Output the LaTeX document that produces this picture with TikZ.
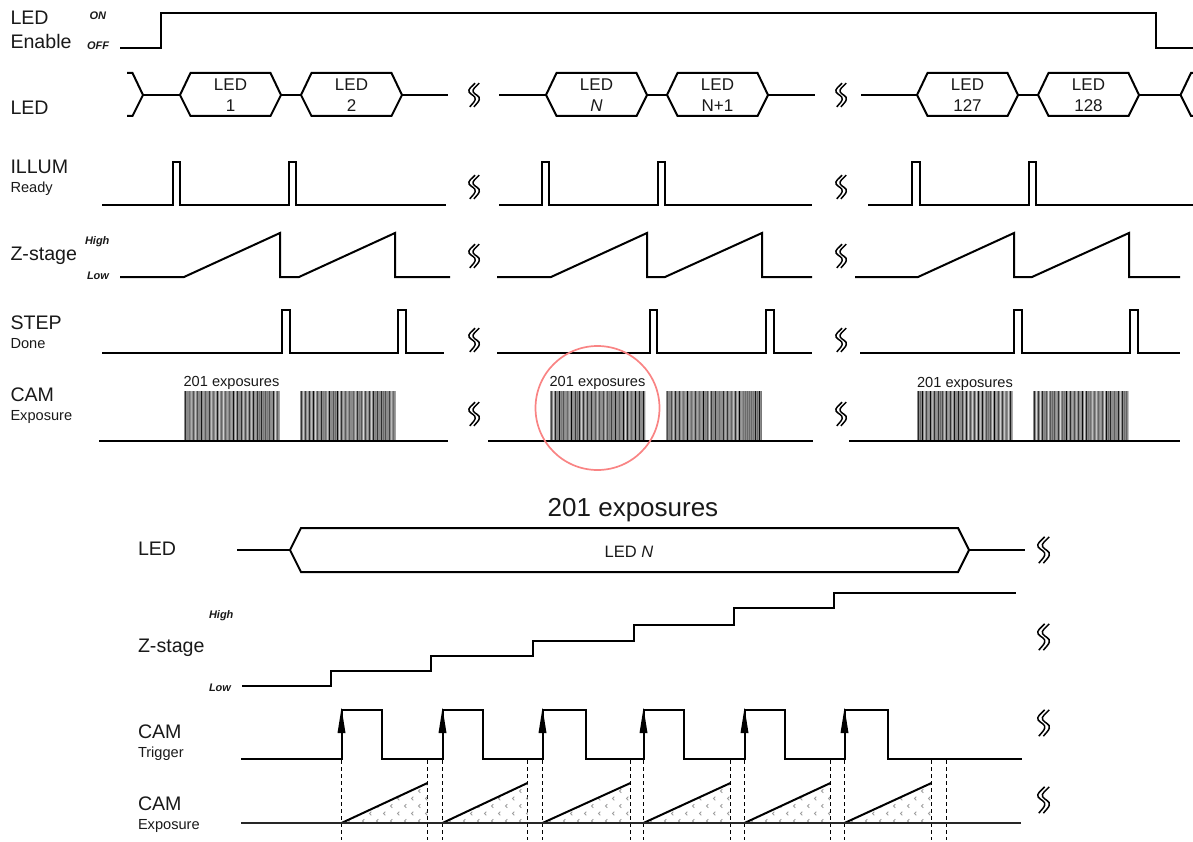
\documentclass[tikz,border=0pt]{standalone}
\usepackage{fontspec}
\setmainfont{Liberation Sans}
\newcommand{\fsz}[1]{\fontsize{#1}{#1}\selectfont}
\definecolor{ringc}{HTML}{F98484}
\tikzset{
  wave/.style={line width=2pt,line join=miter,black},
  thin wave/.style={line width=1.6pt,black!85},
  squig/.style={line width=1.5pt,black},
  guide/.style={line width=0.9pt,dash pattern=on 4pt off 3pt,black},
  lab/.style={anchor=base west,inner sep=0pt,outer sep=0pt,text=black!90},
  biglab/.style={lab,font=\fsz{19.6}},
  smalllab/.style={lab,font=\fsz{14.6}},
  lvl/.style={lab,font=\fsz{11}\bfseries\itshape},
  hextext/.style={anchor=base,inner sep=0pt,outer sep=0pt,font=\fsz{17},text=black!90},
  counttext/.style={anchor=base,inner sep=0pt,outer sep=0pt,font=\fsz{14.6},text=black!90}
}
% squiggle at x,y with scale
\newcommand{\sqg}[3]{%
  \begin{scope}[shift={(#1,#2)},xscale=#3*1.25,yscale=#3]
   \draw[squig] (0.5,-12.5) .. controls (-2,-9) and (-6,-6) .. (-4.5,-3) .. controls (-3,0) and (1.5,1) .. (0.5,5) .. controls (0,7.5) and (-2.5,10) .. (-4,12.5);
   \draw[squig] (4,-12.5) .. controls (1.5,-9) and (-2.5,-6) .. (-1,-3) .. controls (0.5,0) and (5,1) .. (4,5) .. controls (3.5,7.5) and (1,10) .. (-0.5,12.5);
  \end{scope}}
% hexagon bus cell: left tip, right tip
\newcommand{\hexcell}[5]{% xleft xright ytop ymid ybot
  \draw[wave] (#1,#4) -- ({#1+10.5},#3) -- ({#2-10.5},#3) -- (#2,#4) -- ({#2-10.5},#5) -- ({#1+10.5},#5) -- cycle;}
% two-line LED cell
\newcommand{\ledcell}[4]{% xleft xright line2 name
  \hexcell{#1}{#2}{73}{95}{116}
  \node[hextext] (#4a) at ({(#1+#2)/2},91) {LED};
  \node[hextext] (#4b) at ({(#1+#2)/2},112) {#3};}
\newcommand{\bars}[1]{%
  \fill[black!45] (#1,391) rectangle ({#1+96},441);
  \foreach \k in {0,...,47}{%
    \pgfmathsetmacro{\shade}{int(ifthenelse(mod(\k,2)==0,55+45*rnd,15+45*rnd))}%
    \pgfmathsetmacro{\lx}{#1+1+\k*2}%
    \draw[black!\shade!white,line width=1pt] (\lx,391) -- (\lx,441);
  }}
\newcommand{\expo}[2]{% start end
  \begin{scope}
    \clip (#1,823) -- (#2,783) -- (#2,823) -- cycle;
    \foreach \c in {0,...,7}{\foreach \r in {0,...,5}{%
      \pgfmathsetmacro{\mx}{#1+\c*14+mod(\r,2)*7+7}%
      \pgfmathsetmacro{\my}{821-\r*7.5}%
      \draw[black!38,line width=0.8pt] (\mx+1.8,\my-1.8) -- (\mx,\my) -- (\mx+1.8,\my+1.8);
    }}
  \end{scope}
  \draw[wave] (#1,823) -- (#2,783);}
\begin{document}
\begin{tikzpicture}[x=1pt,y=-1pt]
\useasboundingbox (0,0) rectangle (1193,842);
\pgfmathsetseed{11}
% labels
\node[biglab] (tLed) at (10.5,25) {LED};
\node[biglab] (tEn) at (10.5,49) {Enable};
\node[lvl] (tOn) at (89.5,20) {ON};
\node[lvl] (tOff) at (87,50) {OFF};
\node[biglab] (tLed2) at (10.5,115) {LED};
\node[biglab] (tIll) at (10.5,174) {ILLUM};
\node[smalllab] (tRdy) at (10.5,193) {Ready};
\node[biglab] (tZ) at (10.5,260) {Z-stage};
\node[lvl] (tHi) at (85,245) {High};
\node[lvl] (tLo) at (87,279) {Low};
\node[biglab] (tStep) at (10.5,329) {STEP};
\node[smalllab] (tDone) at (10.5,348) {Done};
\node[biglab] (tCam) at (10.5,401) {CAM};
\node[smalllab] (tExp) at (10.5,420) {Exposure};
% enable
\draw[wave] (120,48) -- (160.5,48) -- (160.5,13) -- (1155.5,13) -- (1155.5,48) -- (1193,48);
% LED row
\draw[wave] (127,73) -- (132.5,73) -- (143,95) -- (132.5,116) -- (127,116);
\draw[wave] (143,95) -- (180,95);
\ledcell{180}{281}{1}{c1}
\draw[wave] (281,95) -- (301,95);
\ledcell{301}{402}{2}{c2}
\draw[wave] (402,95) -- (448,95);
\draw[wave] (499,95) -- (546,95);
\ledcell{546}{647}{\itshape N}{c3}
\draw[wave] (647,95) -- (667,95);
\ledcell{667}{768}{N+1}{c4}
\draw[wave] (768,95) -- (815,95);
\draw[wave] (861,95) -- (917,95);
\ledcell{917}{1018}{127}{c5}
\draw[wave] (1018,95) -- (1038,95);
\ledcell{1038}{1139}{128}{c6}
\draw[wave] (1139,95) -- (1180.5,95);
\draw[wave] (1193,73) -- (1191,73) -- (1180.5,95) -- (1191,116) -- (1193,116);
% ILLUM
\draw[wave] (102,205) -- (172.5,205) -- (172.5,162) -- (180,162) -- (180,205) -- (288.5,205) -- (288.5,162) -- (296,162) -- (296,205) -- (446,205);
\draw[wave] (499,205) -- (541.5,205) -- (541.5,162) -- (549,162) -- (549,205) -- (657.5,205) -- (657.5,162) -- (665,162) -- (665,205) -- (812,205);
\draw[wave] (868,205) -- (912,205) -- (912,162) -- (919.5,162) -- (919.5,205) -- (1028.5,205) -- (1028.5,162) -- (1036,162) -- (1036,205) -- (1193,205);
% Z-stage
\draw[wave] (120,277) -- (184,277) -- (280,233) -- (280,277) -- (299,277) -- (395,233) -- (395,277) -- (450,277);
\draw[wave] (497,277) -- (551,277) -- (647,233) -- (647,277) -- (665,277) -- (762,233) -- (762,277) -- (812,277);
\draw[wave] (855,277) -- (918,277) -- (1014,233) -- (1014,277) -- (1032,277) -- (1129,233) -- (1129,277) -- (1180,277);
% STEP
\draw[wave] (102,353) -- (282,353) -- (282,310) -- (289.5,310) -- (289.5,353) -- (398,353) -- (398,310) -- (405.5,310) -- (405.5,353) -- (444,353);
\draw[wave] (497,353) -- (649.5,353) -- (649.5,310) -- (657,310) -- (657,353) -- (766,353) -- (766,310) -- (773.5,310) -- (773.5,353) -- (812,353);
\draw[wave] (860,353) -- (1014,353) -- (1014,310) -- (1021.5,310) -- (1021.5,353) -- (1130,353) -- (1130,310) -- (1137.5,310) -- (1137.5,353) -- (1180,353);
% CAM bars
\bars{184}\bars{300}\bars{550}\bars{666}\bars{917}\bars{1033}
\draw[wave] (99,441) -- (448,441);
\draw[wave] (488,441) -- (813,441);
\draw[wave] (849,441) -- (1180,441);
\node[counttext] (n1) at (231.5,386) {201 exposures};
\node[counttext] (n2) at (597.5,386) {201 exposures};
\node[counttext] (n3) at (965,387) {201 exposures};
\node[draw=ringc,line width=1.7pt,circle,minimum size=124pt,inner sep=0pt] (ring) at (597.5,408) {};
% squiggles
\foreach \yy in {95,187,256,340,414}{\sqg{474.5}{\yy}{0.95}\sqg{841.5}{\yy}{0.95}}
\foreach \yy in {550,637,723,800}{\sqg{1044}{\yy}{1.05}}
% lower part
\node[anchor=base,inner sep=0pt,font=\fsz{26},text=black!90] (title) at (633,516) {201 exposures};
\node[biglab] (bLed) at (138,555) {LED};
\node[biglab] (bZ) at (138,652) {Z-stage};
\node[lvl] (bHi) at (209,618) {High};
\node[lvl] (bLo) at (209,691) {Low};
\node[biglab] (bCam) at (138,738) {CAM};
\node[smalllab] (bTrig) at (138,757) {Trigger};
\node[biglab] (bCam2) at (138,810) {CAM};
\node[smalllab] (bExp) at (138,829) {Exposure};
\draw[wave] (237,550) -- (290,550);
\draw[wave] (290,550) -- (301,528) -- (958,528) -- (969,550) -- (958,572) -- (301,572) -- cycle;
\draw[wave] (969,550) -- (1025,550);
\node[anchor=base,inner sep=0pt,font=\fsz{16.5},text=black!90] (ledn) at (629,557) {LED \textit{N}};
\draw[wave] (242,686) -- (330.5,686) -- (330.5,671) -- (431,671) -- (431,656) -- (532.5,656) -- (532.5,641) -- (633.5,641) -- (633.5,625) -- (733.5,625) -- (733.5,608) -- (833.5,608) -- (833.5,593) -- (1016,593);
% trigger
\draw[wave] (241,759) -- (341.5,759) -- (341.5,710) -- (381.5,710) -- (381.5,759) -- (442.5,759) -- (442.5,710) -- (482.5,710) -- (482.5,759) -- (542.5,759) -- (542.5,710) -- (585.5,710) -- (585.5,759) -- (643.5,759) -- (643.5,710) -- (684,710) -- (684,759) -- (744.5,759) -- (744.5,710) -- (785,710) -- (785,759) -- (844.5,759) -- (844.5,710) -- (888,710) -- (888,759) -- (1022,759);
\foreach \xx in {341.5,442.5,542.5,643.5,744.5,844.5}{
  \fill[black] (\xx,708) -- (\xx+4,733) -- (\xx-4,733) -- cycle;
  \draw[guide] (\xx,760) -- (\xx,840);
}
\foreach \xx in {427.5,527.5,630.5,730.5,830.5,931.5,946}{
  \draw[guide] (\xx,760) -- (\xx,840);
}
% exposures
\expo{341.5}{427.5}\expo{442.5}{527.5}\expo{542.5}{630.5}\expo{643.5}{730.5}\expo{744.5}{830.5}\expo{844.5}{931.5}
\draw[thin wave] (241,823) -- (1021,823);
\end{tikzpicture}
\end{document}
